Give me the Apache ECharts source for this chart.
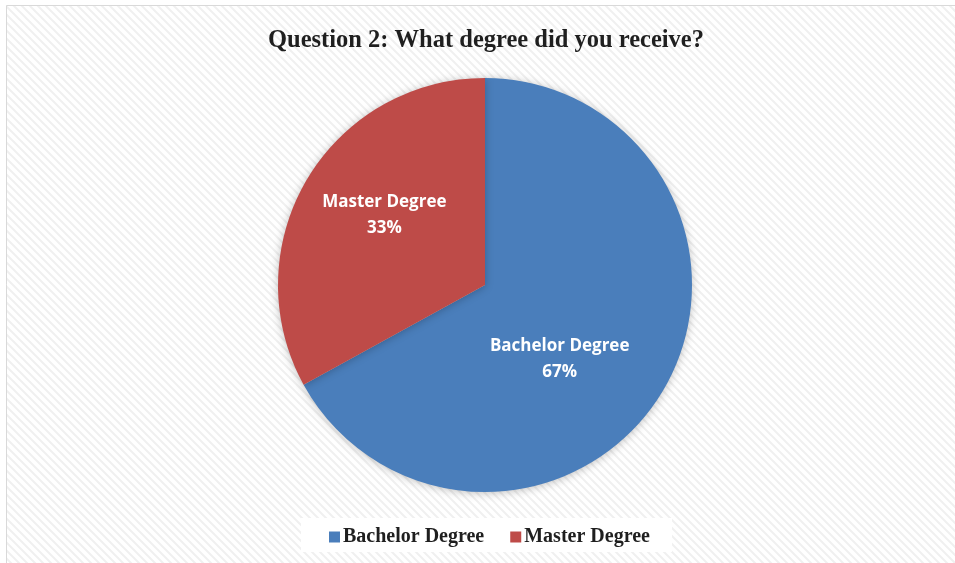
<!DOCTYPE html>
<html>
<head>
<meta charset="utf-8">
<script src="https://cdn.jsdelivr.net/npm/echarts@6/dist/echarts.min.js"></script>
<style>
  html, body { margin: 0; padding: 0; background: #ffffff; }
  #chart { width: 955px; height: 563px; }
</style>
</head>
<body>
<div id="chart"></div>
<script>
// Survey answers: degree received
const categories = ['Bachelor Degree', 'Master Degree'];
const shares = [67, 33];
const colors = ['#4A7EBB', '#BE4B48'];
const titleText = 'Question 2: What degree did you receive?';

// Light diagonal-hatch tile used as the chart-area fill
function hatchTile() {
  const c = document.createElement('canvas');
  c.width = 8; c.height = 8;
  const g = c.getContext('2d');
  g.fillStyle = '#ffffff';
  g.fillRect(0, 0, 8, 8);
  g.strokeStyle = '#f0f0f0';
  g.lineWidth = 2;
  g.beginPath();
  g.moveTo(-2, -2); g.lineTo(10, 10);
  g.moveTo(-10, -2); g.lineTo(2, 10);
  g.moveTo(6, -2); g.lineTo(18, 10);
  g.stroke();
  return c;
}

const labelOffsets = [[-17, 20], [-9, -16]];

const chart = echarts.init(document.getElementById('chart'), null, { renderer: 'canvas' });
chart.setOption({
  backgroundColor: '#ffffff',
  animation: false,
  graphic: [
    {
      type: 'rect', z: -10, silent: true,
      shape: { x: 6.5, y: 5.5, width: 1000, height: 600 },
      style: { fill: { image: hatchTile(), repeat: 'repeat' }, stroke: '#d9d9d9', lineWidth: 1 }
    },
    {
      type: 'rect', z: -5, silent: true,
      shape: { x: 301, y: 518, width: 371, height: 34 },
      style: { fill: '#ffffff' }
    }
  ],
  title: {
    text: titleText,
    left: 263,
    top: 23,
    textStyle: {
      fontFamily: 'Liberation Serif',
      fontWeight: 'bold',
      fontSize: 24.5,
      color: '#1f1f1f'
    }
  },
  legend: {
    bottom: 11,
    left: 324,
    itemWidth: 11,
    itemHeight: 11,
    itemGap: 26,
    icon: 'rect',
    textStyle: {
      fontFamily: 'Liberation Serif',
      fontWeight: 'bold',
      fontSize: 20,
      color: '#1f1f1f',
      padding: [0, 0, 0, -2]
    },
    data: categories
  },
  series: [{
    type: 'pie',
    center: [485, 285],
    radius: [0, 207],
    startAngle: 90,
    clockwise: true,
    itemStyle: {
      shadowBlur: 8,
      shadowColor: 'rgba(0,0,0,0.25)',
      shadowOffsetX: 0,
      shadowOffsetY: 1
    },
    label: {
      show: true,
      position: 'inner',
      formatter: (p) => p.name + '\n' + p.value + '%',
      fontFamily: 'Open Sans',
      fontWeight: 'bold',
      fontSize: 17,
      lineHeight: 26,
      color: '#ffffff'
    },
    labelLine: { show: false },
    data: categories.map((name, i) => ({
      name: name,
      value: shares[i],
      itemStyle: { color: colors[i] },
      label: { offset: labelOffsets[i] }
    }))
  }]
});
</script>
</body>
</html>
